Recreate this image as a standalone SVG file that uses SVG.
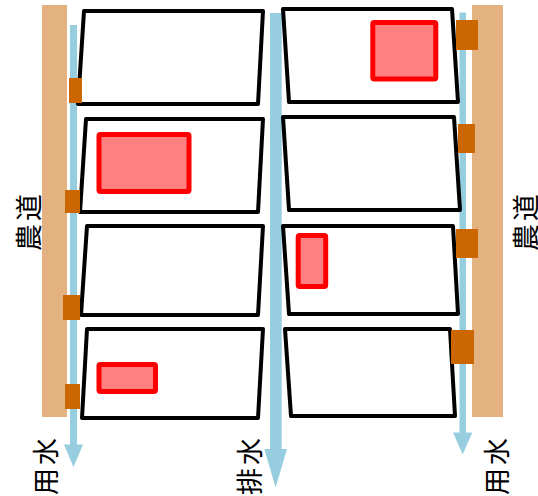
<svg xmlns="http://www.w3.org/2000/svg" width="538" height="496" viewBox="0 0 538 496">
<style>
.road{fill:#e4b280}
.water{fill:#96cddf}
.gate{fill:#cc6600}
.parcel{fill:#fff;stroke:#000;stroke-width:4;stroke-linejoin:round}
.crop{fill:#ff8080;stroke:#f00;stroke-width:5;stroke-linejoin:round}
.label{font-family:"Noto Sans CJK JP","Noto Sans CJK SC",sans-serif;font-size:27px;fill:#000;text-anchor:middle;dominant-baseline:central;letter-spacing:3px}
</style>
<rect width="538" height="496" fill="#fff"/>
<g id="roads">
<rect id="road-left" class="road" x="42" y="5" width="25" height="412"/>
<rect id="road-right" class="road" x="472" y="5" width="31" height="412"/>
</g>
<g id="connectors">
<polygon class="water" points="70,25 77,25 77,444.500 83,444.500 73.500,467 64,444.500 70,444.500"/>
<polygon class="water" points="270,13 281.700,13 281.700,449 287,449 275.600,487.500 264.300,449 270,449"/>
<polygon class="water" points="459.500,12.500 466,12.500 466,432.500 472.300,432.500 462.700,454.500 453,432.500 459.500,432.500"/>
</g>
<g id="parcel-l1"><polygon class="parcel" points="84,11 263,11 258,104 78,104"/></g>
<g id="parcel-l2"><polygon class="parcel" points="86,119 263,119 258,212 80,212"/><rect class="crop" x="99" y="134.500" width="90" height="57" rx="1.500"/></g>
<g id="parcel-l3"><polygon class="parcel" points="87,226 263,226 258,315 81,315"/></g>
<g id="parcel-l4"><polygon class="parcel" points="87,329 263,329 258,418 82,418"/><rect class="crop" x="99" y="364.500" width="56.500" height="27" rx="1.500"/></g>
<g id="parcel-r1"><polygon class="parcel" points="283,9 452,9 458,102 289,102"/><rect class="crop" x="372.800" y="22.500" width="63" height="56.500" rx="1.500"/></g>
<g id="parcel-r2"><polygon class="parcel" points="283,117 454,117 460,210 289,210"/></g>
<g id="parcel-r3"><polygon class="parcel" points="283,226 453,226 458,314 289,314"/><rect class="crop" x="298.200" y="235.500" width="27.500" height="51" rx="1.500"/></g>
<g id="parcel-r4"><polygon class="parcel" points="285,329 450,329 455,416 291,416"/></g>
<g id="gates">
<rect class="gate" x="69" y="78" width="13" height="25"/>
<rect class="gate" x="65" y="190" width="15" height="23"/>
<rect class="gate" x="63" y="295" width="17" height="25"/>
<rect class="gate" x="65" y="384" width="15" height="25"/>
<rect class="gate" x="456" y="20" width="22" height="30"/>
<rect class="gate" x="458" y="124" width="17" height="29"/>
<rect class="gate" x="456" y="229" width="22" height="29"/>
<rect class="gate" x="451" y="330" width="23" height="34"/>
</g>
<g id="labels">
<text class="label" transform="translate(27,221) rotate(-90)">農道</text>
<text class="label" transform="translate(524.500,221) rotate(-90)">農道</text>
<text class="label" transform="translate(44,465) rotate(-90)">用水</text>
<text class="label" transform="translate(248,465) rotate(-90)">排水</text>
<text class="label" transform="translate(495,465) rotate(-90)">用水</text>
</g>
</svg>
